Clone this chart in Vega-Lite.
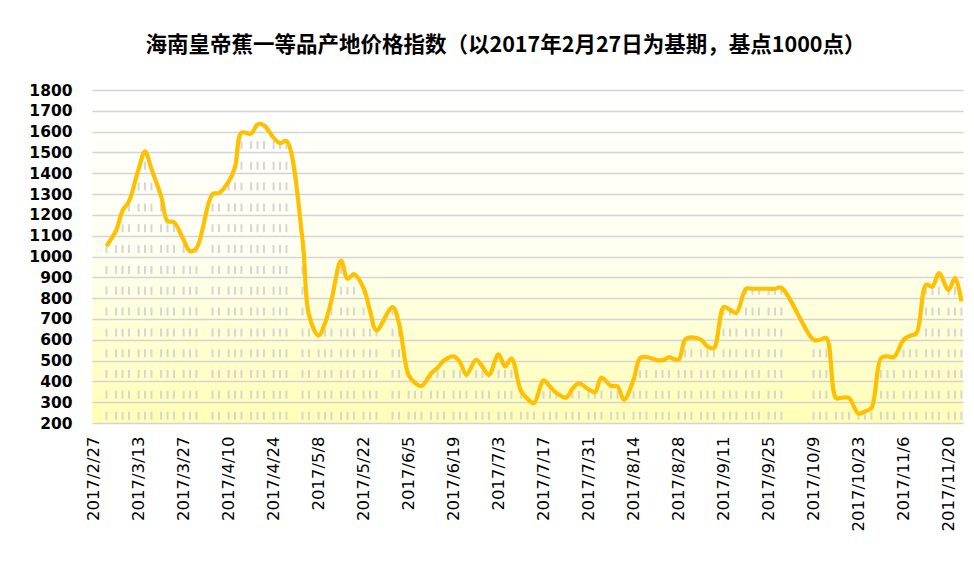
{
  "$schema": "https://vega.github.io/schema/vega-lite/v6.json",
  "autosize": {"type": "none"},
  "padding": {"left": 92, "top": 90, "right": 11, "bottom": 151},
  "width": 871,
  "height": 333,
  "background": "#ffffff",
  "view": {
    "stroke": null,
    "fill": {"gradient": "linear", "x1": 0, "y1": 0, "x2": 0, "y2": 1,
      "stops": [{"offset": 0, "color": "#ffffff"}, {"offset": 0.5, "color": "#fffff0"}, {"offset": 1, "color": "#ffffb4"}]}
  },
  "title": {
    "text": "海南皇帝蕉一等品产地价格指数（以2017年2月27日为基期，基点1000点）",
    "font": "Noto Sans CJK SC", "fontSize": 21.5, "fontWeight": "bold", "color": "#000000",
    "anchor": "middle", "frame": "group", "offset": 27, "dx": -22
  },
  "data": {"values": [
    {"date": "2017-03-03", "value": 1050},
    {"date": "2017-03-06", "value": 1125},
    {"date": "2017-03-08", "value": 1220},
    {"date": "2017-03-10", "value": 1265},
    {"date": "2017-03-13", "value": 1420},
    {"date": "2017-03-15", "value": 1505},
    {"date": "2017-03-17", "value": 1420},
    {"date": "2017-03-20", "value": 1290},
    {"date": "2017-03-22", "value": 1170},
    {"date": "2017-03-24", "value": 1165},
    {"date": "2017-03-27", "value": 1080},
    {"date": "2017-03-29", "value": 1025},
    {"date": "2017-03-31", "value": 1040},
    {"date": "2017-04-05", "value": 1300},
    {"date": "2017-04-07", "value": 1305},
    {"date": "2017-04-10", "value": 1360},
    {"date": "2017-04-12", "value": 1430},
    {"date": "2017-04-14", "value": 1595},
    {"date": "2017-04-17", "value": 1590},
    {"date": "2017-04-19", "value": 1635},
    {"date": "2017-04-21", "value": 1630},
    {"date": "2017-04-24", "value": 1570},
    {"date": "2017-04-26", "value": 1545},
    {"date": "2017-04-28", "value": 1555},
    {"date": "2017-05-03", "value": 1080},
    {"date": "2017-05-05", "value": 720},
    {"date": "2017-05-08", "value": 620},
    {"date": "2017-05-10", "value": 680},
    {"date": "2017-05-12", "value": 790},
    {"date": "2017-05-15", "value": 980},
    {"date": "2017-05-17", "value": 893},
    {"date": "2017-05-19", "value": 915},
    {"date": "2017-05-22", "value": 848},
    {"date": "2017-05-24", "value": 740},
    {"date": "2017-05-26", "value": 645},
    {"date": "2017-05-31", "value": 757},
    {"date": "2017-06-02", "value": 680},
    {"date": "2017-06-05", "value": 430},
    {"date": "2017-06-07", "value": 393},
    {"date": "2017-06-09", "value": 378},
    {"date": "2017-06-12", "value": 438},
    {"date": "2017-06-14", "value": 465},
    {"date": "2017-06-16", "value": 500},
    {"date": "2017-06-19", "value": 520},
    {"date": "2017-06-21", "value": 492},
    {"date": "2017-06-23", "value": 432},
    {"date": "2017-06-26", "value": 504},
    {"date": "2017-06-28", "value": 470},
    {"date": "2017-06-30", "value": 432},
    {"date": "2017-07-03", "value": 530},
    {"date": "2017-07-05", "value": 472},
    {"date": "2017-07-07", "value": 510},
    {"date": "2017-07-10", "value": 352},
    {"date": "2017-07-12", "value": 316},
    {"date": "2017-07-14", "value": 295},
    {"date": "2017-07-17", "value": 405},
    {"date": "2017-07-19", "value": 375},
    {"date": "2017-07-21", "value": 344},
    {"date": "2017-07-24", "value": 322},
    {"date": "2017-07-26", "value": 365},
    {"date": "2017-07-28", "value": 390},
    {"date": "2017-07-31", "value": 362},
    {"date": "2017-08-02", "value": 348},
    {"date": "2017-08-04", "value": 418},
    {"date": "2017-08-07", "value": 378},
    {"date": "2017-08-09", "value": 376},
    {"date": "2017-08-11", "value": 312},
    {"date": "2017-08-14", "value": 408},
    {"date": "2017-08-16", "value": 512},
    {"date": "2017-08-18", "value": 517},
    {"date": "2017-08-21", "value": 504},
    {"date": "2017-08-23", "value": 501},
    {"date": "2017-08-25", "value": 515},
    {"date": "2017-08-28", "value": 504},
    {"date": "2017-08-30", "value": 600},
    {"date": "2017-09-01", "value": 611},
    {"date": "2017-09-04", "value": 600},
    {"date": "2017-09-06", "value": 568},
    {"date": "2017-09-08", "value": 560},
    {"date": "2017-09-11", "value": 757},
    {"date": "2017-09-13", "value": 744},
    {"date": "2017-09-15", "value": 730},
    {"date": "2017-09-18", "value": 845},
    {"date": "2017-09-20", "value": 845},
    {"date": "2017-09-22", "value": 845},
    {"date": "2017-09-25", "value": 845},
    {"date": "2017-09-27", "value": 845},
    {"date": "2017-09-29", "value": 850},
    {"date": "2017-10-09", "value": 600},
    {"date": "2017-10-11", "value": 600},
    {"date": "2017-10-13", "value": 608},
    {"date": "2017-10-16", "value": 320},
    {"date": "2017-10-18", "value": 322},
    {"date": "2017-10-20", "value": 320},
    {"date": "2017-10-23", "value": 245},
    {"date": "2017-10-25", "value": 256},
    {"date": "2017-10-27", "value": 272},
    {"date": "2017-10-30", "value": 512},
    {"date": "2017-11-01", "value": 520},
    {"date": "2017-11-03", "value": 517},
    {"date": "2017-11-06", "value": 600},
    {"date": "2017-11-08", "value": 619},
    {"date": "2017-11-10", "value": 632},
    {"date": "2017-11-13", "value": 864},
    {"date": "2017-11-15", "value": 856},
    {"date": "2017-11-17", "value": 920},
    {"date": "2017-11-20", "value": 840},
    {"date": "2017-11-22", "value": 896},
    {"date": "2017-11-24", "value": 784}
  ]},
  "encoding": {
    "x": {
      "field": "date", "type": "temporal",
      "scale": {"type": "utc", "domain": [
        {"year": 2017, "month": 2, "date": 26, "hours": 12, "utc": true},
        {"year": 2017, "month": 11, "date": 24, "hours": 12, "utc": true}
      ]},
      "axis": {
        "title": null,
        "values": [
          {"year": 2017, "month": 2, "date": 27, "utc": true},
          {"year": 2017, "month": 3, "date": 13, "utc": true},
          {"year": 2017, "month": 3, "date": 27, "utc": true},
          {"year": 2017, "month": 4, "date": 10, "utc": true},
          {"year": 2017, "month": 4, "date": 24, "utc": true},
          {"year": 2017, "month": 5, "date": 8, "utc": true},
          {"year": 2017, "month": 5, "date": 22, "utc": true},
          {"year": 2017, "month": 6, "date": 5, "utc": true},
          {"year": 2017, "month": 6, "date": 19, "utc": true},
          {"year": 2017, "month": 7, "date": 3, "utc": true},
          {"year": 2017, "month": 7, "date": 17, "utc": true},
          {"year": 2017, "month": 7, "date": 31, "utc": true},
          {"year": 2017, "month": 8, "date": 14, "utc": true},
          {"year": 2017, "month": 8, "date": 28, "utc": true},
          {"year": 2017, "month": 9, "date": 11, "utc": true},
          {"year": 2017, "month": 9, "date": 25, "utc": true},
          {"year": 2017, "month": 10, "date": 9, "utc": true},
          {"year": 2017, "month": 10, "date": 23, "utc": true},
          {"year": 2017, "month": 11, "date": 6, "utc": true},
          {"year": 2017, "month": 11, "date": 20, "utc": true}
        ],
        "labelExpr": "utcFormat(datum.value, '%Y/%-m/%-d')",
        "labelAngle": 270,
        "labelFont": "DejaVu Sans", "labelFontSize": 16.5, "labelColor": "#000000",
        "labelPadding": 13, "ticks": false, "tickSize": 0, "domain": false, "grid": false,
        "labelOverlap": false, "labelFlush": false, "labelBound": false
      }
    },
    "y": {"field": "value", "type": "quantitative",
      "scale": {"domain": [200, 1800], "nice": false, "zero": false},
      "axis": {"title": null, "format": "d", "values": [200, 300, 400, 500, 600, 700, 800, 900, 1000, 1100, 1200, 1300, 1400, 1500, 1600, 1700, 1800],
        "labelFont": "DejaVu Sans", "labelFontWeight": "bold", "labelFontSize": 15.5, "labelColor": "#000000",
        "labelPadding": 20, "ticks": false, "tickSize": 0, "domain": false,
        "grid": true, "gridColor": "#d4d4d4", "gridWidth": 1.5, "labelFlush": false, "labelBound": false}}
  },
  "layer": [
    {
      "mark": {"type": "rule", "color": "#d6d6d6", "strokeWidth": 2, "strokeDash": [8, 12.83],
        "strokeDashOffset": {"expr": "((11.3 - (scale('y', 200) - scale('y', datum.value))) % 20.83 + 20.83) % 20.83"}},
      "encoding": {
        "y2": {"datum": 200}
      }
    },
    {
      "mark": {"type": "line", "color": "#FFC000", "strokeWidth": 4.2, "interpolate": "catmull-rom"},
      "encoding": {}
    }
  ]
}
